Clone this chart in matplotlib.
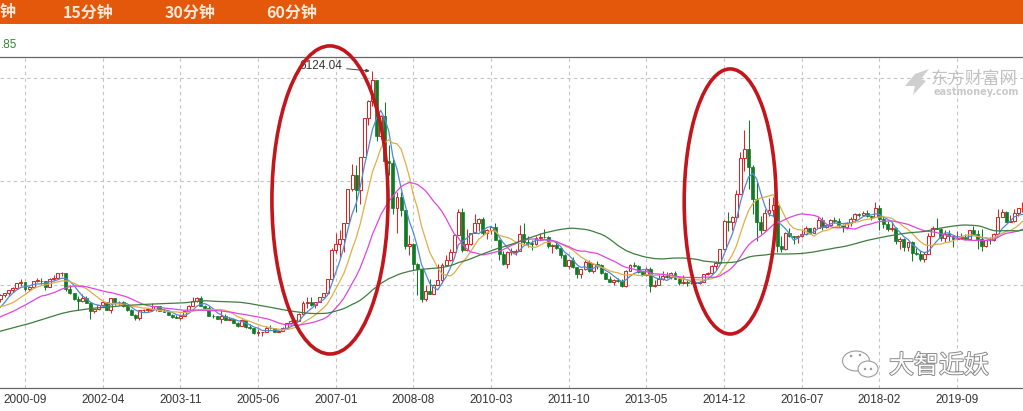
import matplotlib
matplotlib.use('Agg')

import numpy as np
import pandas as pd
import matplotlib.pyplot as plt
import matplotlib.patheffects as pe
from matplotlib.patches import Ellipse, Rectangle, Polygon

# ==========================================
# DATA  (monthly candles, Shanghai composite)
# ==========================================
# closes 1995-04 .. 2000-02, only used so the moving averages start filled
warmup_close = [
    596, 700, 630, 710, 727, 746, 721, 650, 555,
    538, 564, 548, 722, 651, 804, 824, 814, 884, 998, 1000, 917,
    976, 1024, 1206, 1376, 1222, 1211, 1177, 1207, 1097, 1197, 1145, 1194,
    1222, 1206, 1243, 1342, 1411, 1339, 1315, 1157, 1240, 1218, 1248, 1147,
    1134, 1090, 1158, 1120, 1280, 1689, 1601, 1627, 1541, 1470, 1411, 1367,
    1535, 1714,
]
first_month = '2000-03'

opens = [
    1714, 1800, 1836, 1894, 1928, 2023, 2043, 1910, 1961, 2070,
    2073, 2065, 1959, 2112, 2120, 2214, 2218, 1920, 1834, 1724, 1690, 1748,
    1646, 1490, 1524, 1603, 1656, 1515, 1733, 1661, 1669, 1581, 1508, 1421,
    1357, 1499, 1511, 1511, 1521, 1576, 1487, 1477, 1421, 1367, 1348, 1397,
    1497, 1590, 1675, 1741, 1595, 1555, 1399, 1386, 1342, 1396, 1320, 1341,
    1266, 1191, 1306, 1181, 1159, 1060, 1080, 1083, 1162, 1155, 1092, 1099,
    1161, 1258, 1299, 1298, 1440, 1641, 1672, 1612, 1658, 1752, 1837, 2099,
    2675, 2786, 2881, 3183, 3841, 4109, 3820, 4471, 5218, 5552, 5954, 4871,
    5262, 4383, 4348, 3473, 3693, 3433, 2736, 2775, 2397, 2293, 1729, 1871,
    1821, 1991, 2082, 2373, 2477, 2633, 2959, 3412, 2668, 2779, 2996, 3195,
    3277, 2989, 3052, 3110, 2871, 2592, 2398, 2638, 2639, 2656, 2979, 2820,
    2808, 2790, 2905, 2928, 2911, 2743, 2762, 2701, 2568, 2359, 2468, 2333,
    2199, 2292, 2428, 2263, 2397, 2373, 2226, 2103, 2048, 2086, 2069, 1980,
    2269, 2385, 2366, 2237, 2178, 2301, 1979, 1994, 2098, 2175, 2142, 2220,
    2116, 2033, 2056, 2033, 2026, 2039, 2048, 2202, 2217, 2364, 2420, 2683,
    3235, 3210, 3310, 3748, 4442, 4612, 4277, 3664, 3206, 3053, 3383, 3446,
    3539, 2738, 2688, 3004, 2938, 2917, 2930, 2979, 3085, 3005, 3100, 3250,
    3104, 3159, 3242, 3223, 3155, 3117, 3192, 3273, 3361, 3349, 3393, 3317,
    3307, 3481, 3259, 3169, 3082, 3095, 2847, 2876, 2725, 2821, 2603, 2588,
    2494, 2585, 2941, 3091, 3078, 2899, 2979, 2933, 2886, 2905, 2929, 2872,
    3050, 2977, 2880, 2750, 2860, 2852, 2985, 3310, 3396, 3218, 3225, 3392,
    3474,
]
highs = [
    1817, 1845, 1900, 1950, 2024, 2114, 2053, 1975, 2073, 2125,
    2131, 2074, 2134, 2185, 2232, 2245, 2223, 1985, 1838, 1776, 1811, 1782,
    1660, 1528, 1614, 1672, 1660, 1749, 1748, 1681, 1680, 1609, 1525, 1432,
    1500, 1521, 1516, 1649, 1578, 1578, 1523, 1498, 1437, 1420, 1406, 1498,
    1601, 1760, 1760, 1783, 1612, 1587, 1434, 1400, 1512, 1424, 1374, 1355,
    1271, 1328, 1316, 1247, 1164, 1147, 1088, 1192, 1223, 1158, 1111, 1178,
    1259, 1306, 1306, 1445, 1678, 1757, 1757, 1659, 1753, 1840, 2100, 2698,
    2994, 3049, 3183, 3841, 4335, 4311, 4471, 5219, 5562, 6124.04, 5956, 5271,
    5523, 4695, 4473, 3786, 3786, 3434, 2952, 2803, 2425, 2301, 2001, 2100,
    2013, 2403, 2418, 2580, 2689, 2981, 3454, 3478, 3068, 3000, 3361, 3295,
    3307, 3072, 3138, 3182, 2872, 2655, 2646, 2716, 2696, 3160, 3186, 2940,
    2862, 2942, 3000, 3067, 2932, 2780, 2826, 2718, 2595, 2484, 2536, 2345,
    2302, 2478, 2476, 2414, 2453, 2393, 2244, 2164, 2107, 2133, 2104, 2276,
    2398, 2444, 2369, 2268, 2334, 2334, 2092, 2198, 2270, 2242, 2244, 2260,
    2120, 2177, 2079, 2146, 2062, 2076, 2207, 2248, 2375, 2452, 2683, 3239,
    3406, 3325, 3835, 4572, 4986, 5178, 4317, 4006, 3318, 3459, 3678, 3684,
    3539, 2934, 3018, 3097, 2946, 2953, 3070, 3140, 3100, 3112, 3301, 3301,
    3174, 3260, 3301, 3295, 3167, 3200, 3301, 3376, 3391, 3417, 3450, 3326,
    3587, 3534, 3333, 3221, 3219, 3118, 2915, 2909, 2827, 2838, 2703, 2660,
    2631, 2998, 3130, 3288, 3093, 3050, 3048, 2945, 3042, 2993, 2978, 3063,
    3127, 3058, 3074, 2866, 2914, 2991, 3458, 3456, 3425, 3348, 3456, 3474,
    3600,
]
lows = [
    1670, 1750, 1780, 1857, 1920, 1975, 1874, 1883, 1950, 2040,
    2019, 1893, 1957, 2091, 2120, 2165, 1875, 1820, 1700, 1514, 1665, 1641,
    1339, 1442, 1513, 1598, 1512, 1455, 1612, 1614, 1560, 1495, 1413, 1311,
    1312, 1476, 1464, 1495, 1497, 1480, 1465, 1410, 1356, 1344, 1307, 1392,
    1491, 1590, 1656, 1580, 1528, 1388, 1357, 1334, 1260, 1319, 1306, 1259,
    1177, 1190, 1167, 1135, 1044, 998, 1004, 1078, 1141, 1090, 1074, 1095,
    1160, 1235, 1255, 1297, 1440, 1541, 1594, 1539, 1656, 1750, 1826, 2090,
    2604, 2541, 2635, 3183, 3808, 3404, 3563, 4458, 5085, 5462, 4778, 4812,
    4330, 4123, 3357, 2990, 3333, 2693, 2567, 2285, 1802, 1664, 1678, 1814,
    1820, 1990, 2038, 2355, 2461, 2630, 2957, 2639, 2650, 2770, 2994, 3039,
    2963, 2890, 2986, 2869, 2481, 2382, 2319, 2578, 2573, 2650, 2774, 2722,
    2662, 2764, 2871, 2895, 2706, 2610, 2688, 2517, 2353, 2307, 2319, 2134,
    2132, 2288, 2242, 2230, 2309, 2211, 2098, 2040, 1999, 2051, 1959, 1949,
    2258, 2330, 2228, 2161, 2163, 1849, 1951, 1990, 2092, 2121, 2103, 2101,
    1985, 2020, 1974, 2005, 1991, 2010, 2040, 2183, 2215, 2283, 2405, 2677,
    3045, 3050, 3238, 3742, 4199, 3847, 3373, 2850, 2983, 3039, 3322, 3327,
    2638, 2638, 2660, 2920, 2781, 2808, 2920, 2959, 2969, 3003, 3094, 3056,
    3094, 3131, 3186, 3111, 3016, 3082, 3136, 3210, 3314, 3340, 3300, 3254,
    3300, 3062, 3092, 3041, 3041, 2782, 2691, 2653, 2644, 2449, 2570, 2462,
    2440, 2582, 2940, 3067, 2838, 2822, 2844, 2733, 2880, 2891, 2857, 2857,
    2955, 2685, 2647, 2720, 2792, 2845, 2985, 3304, 3202, 3208, 3209, 3325,
    3400,
]
closes = [
    1800, 1836, 1894, 1928, 2023, 2043, 1910, 1961, 2070, 2073,
    2065, 1959, 2112, 2120, 2214, 2218, 1920, 1834, 1724, 1690, 1748, 1646,
    1490, 1524, 1603, 1656, 1515, 1733, 1661, 1669, 1581, 1508, 1421, 1357,
    1499, 1511, 1511, 1521, 1576, 1487, 1477, 1421, 1367, 1348, 1397, 1497,
    1590, 1675, 1741, 1595, 1555, 1399, 1386, 1342, 1396, 1320, 1341, 1266,
    1191, 1306, 1181, 1159, 1060, 1080, 1083, 1162, 1155, 1092, 1099, 1161,
    1258, 1299, 1298, 1440, 1641, 1672, 1612, 1658, 1752, 1837, 2099, 2675,
    2786, 2881, 3183, 3841, 4109, 3820, 4471, 5218, 5552, 5954, 4871, 5262,
    4383, 4348, 3473, 3693, 3433, 2736, 2775, 2397, 2293, 1729, 1871, 1821,
    1991, 2082, 2373, 2477, 2633, 2959, 3412, 2668, 2779, 2996, 3195, 3277,
    2989, 3052, 3110, 2871, 2592, 2398, 2638, 2639, 2656, 2979, 2820, 2808,
    2790, 2905, 2928, 2911, 2743, 2762, 2701, 2568, 2359, 2468, 2333, 2199,
    2292, 2428, 2263, 2397, 2373, 2226, 2103, 2048, 2086, 2069, 1980, 2269,
    2385, 2366, 2237, 2178, 2301, 1979, 1994, 2098, 2175, 2142, 2220, 2116,
    2033, 2056, 2033, 2026, 2039, 2048, 2202, 2217, 2364, 2420, 2683, 3235,
    3210, 3310, 3748, 4442, 4612, 4277, 3664, 3206, 3053, 3383, 3446, 3539,
    2738, 2688, 3004, 2938, 2917, 2930, 2979, 3085, 3005, 3100, 3250, 3104,
    3159, 3242, 3223, 3155, 3117, 3192, 3273, 3361, 3349, 3393, 3317, 3307,
    3481, 3259, 3169, 3082, 3095, 2847, 2876, 2725, 2821, 2603, 2588, 2494,
    2585, 2941, 3091, 3078, 2899, 2979, 2933, 2886, 2905, 2929, 2872, 3050,
    2977, 2880, 2750, 2860, 2852, 2985, 3310, 3396, 3218, 3225, 3392, 3473,
    3483,
]

ma_periods = [5, 10, 20, 60]
tick_labels = ["2000-09", "2002-04", "2003-11", "2005-06", "2007-01", "2008-08", "2010-03",
               "2011-10", "2013-05", "2014-12", "2016-07", "2018-02", "2019-09"]
tab_labels = ["钟", "15分钟", "30分钟", "60分钟"]
ma_readout = ".85"

# ==========================================
# STYLE
# ==========================================
W, H = 1023, 411
RED = '#D42A2A'
GREEN = '#117A25'
MA_COLORS = ['#4F8AD6', '#E0AE48', '#E045DF', '#3E7D3E']
ORANGE = '#E4580B'
CIRCLE = '#C2151C'

# ==========================================
# MONTH POSITIONS + MOVING AVERAGES
# ==========================================
base = pd.Period(tick_labels[0], 'M')
start_all = pd.Period(first_month, 'M') - len(warmup_close)
all_close = pd.Series(warmup_close + closes, dtype=float)
x_all = np.array([(start_all + i - base).n for i in range(len(all_close))])
x = x_all[len(warmup_close):]

o = np.array(opens, dtype=float)
h = np.array(highs, dtype=float)
l = np.array(lows, dtype=float)
c = np.array(closes, dtype=float)

# ==========================================
# FIGURE
# ==========================================
fig = plt.figure(figsize=(W / 100, H / 100), dpi=100)
fig.patch.set_facecolor('white')

# plot frame from y=57px to y=388px
ax = fig.add_axes([0, (H - 388) / H, 1, (388 - 57) / H])
px_per_month = 4.088
ax.set_xlim(-25 / px_per_month, (W - 25) / px_per_month)
ax.set_ylim(0, 6400)

up = c >= o
body_lo = np.minimum(o, c)
body_h = np.maximum(np.abs(c - o), 10)

ax.vlines(x[up], l[up], h[up], color=RED, lw=0.75, zorder=2)
ax.vlines(x[~up], l[~up], h[~up], color=GREEN, lw=0.75, zorder=2)
ax.bar(x[up], body_h[up], bottom=body_lo[up], width=0.72,
       facecolor='white', edgecolor=RED, lw=0.75, zorder=3)
ax.bar(x[~up], body_h[~up], bottom=body_lo[~up], width=0.72,
       facecolor=GREEN, edgecolor=GREEN, lw=0.5, zorder=3)

for n, col in zip(ma_periods, MA_COLORS):
    ma = all_close.rolling(n).mean().to_numpy()
    ax.plot(x_all, ma, color=col, lw=0.9, zorder=4)

# peak label
i_peak = int(np.argmax(h))
ax.annotate(f"{h[i_peak]:.2f}", xy=(x[i_peak], h[i_peak]), xytext=(-30, 5),
            textcoords='offset pixels', ha='right', va='center',
            fontsize=8.5, family='Liberation Sans', color='#333333',
            arrowprops=dict(arrowstyle='-|>', color='#444444', lw=0.7,
                            mutation_scale=5, shrinkA=1, shrinkB=2), zorder=5)

# ticks / grid
tick_pos = [(pd.Period(t, 'M') - base).n for t in tick_labels]
ax.set_xticks(tick_pos)
ax.set_xticklabels(tick_labels, fontsize=8.5, family='Liberation Sans', color='#333333')
ax.set_yticks([2000, 4000, 6000])
ax.set_yticklabels([])
ax.tick_params(axis='both', length=0)
ax.tick_params(axis='x', pad=4)
ax.grid(True, linestyle=(0, (3, 3)), color='#C4C4C4', lw=0.8, zorder=0)
ax.set_axisbelow(True)
for side in ['left', 'right']:
    ax.spines[side].set_visible(False)
ax.spines['top'].set_color('#666666')
ax.spines['bottom'].set_color('#666666')
ax.spines['top'].set_linewidth(0.9)
ax.spines['bottom'].set_linewidth(0.9)

# red hand-drawn circles (centre month offset, centre price, width months, height price)
circles = [(74.6, 3636, 28.4, 5957), (172.5, 3607, 22.5, 5125)]
for cx, cy, cw, ch in circles:
    ax.add_patch(Ellipse((cx, cy), cw, ch, fill=False, edgecolor=CIRCLE,
                         lw=2.6, clip_on=False, zorder=6))

# ==========================================
# HEADER + WATERMARKS (pixel coordinates)
# ==========================================
deco = fig.add_axes([0, 0, 1, 1])
deco.set_xlim(0, W)
deco.set_ylim(H, 0)
deco.axis('off')

deco.add_patch(Rectangle((0, 0), W, 24.5, color=ORANGE, lw=0))
cjk = ['Noto Sans CJK SC', 'DejaVu Sans']
for lbl, px in zip(tab_labels, [0, 63, 165, 266]):
    deco.text(px, 12.5, lbl, ha='left', va='center', fontsize=11.5,
              family=cjk, weight='bold', color='#FCE8D4')

deco.text(1, 45, ma_readout, ha='left', va='center', fontsize=8.5,
          family='Liberation Sans', color='#2E8B2E')

# eastmoney logo
deco.add_patch(Polygon([(905, 86), (915, 74), (929, 69), (921, 79), (926, 81),
                        (913, 95), (915, 86)], closed=True, color='#CFCFCF', lw=0))
deco.text(974, 79, "东方财富网", ha='center', va='center', fontsize=12.5,
          family=cjk, color='#C2C2C2')
deco.text(976, 92, "eastmoney.com", ha='center', va='center', fontsize=7,
          family='DejaVu Sans', weight='bold', color='#C9C9C9')

# wechat watermark
deco.add_patch(Ellipse((856, 361), 27, 20, facecolor='white', edgecolor='#9A9A9A', lw=0.8))
deco.add_patch(Ellipse((868, 369), 20, 16, facecolor='white', edgecolor='#9A9A9A', lw=0.8))
for dx, dy in [(851, 356), (860, 355), (865, 369), (871, 369)]:
    deco.add_patch(Ellipse((dx, dy), 2.5, 2.5, facecolor='#9A9A9A', lw=0))
deco.text(939, 366, "大智近妖", ha='center', va='center', fontsize=18,
          family=cjk, color='white',
          path_effects=[pe.withStroke(linewidth=1.4, foreground='#8A8A8A')])

fig.savefig('out.png', dpi=100)
